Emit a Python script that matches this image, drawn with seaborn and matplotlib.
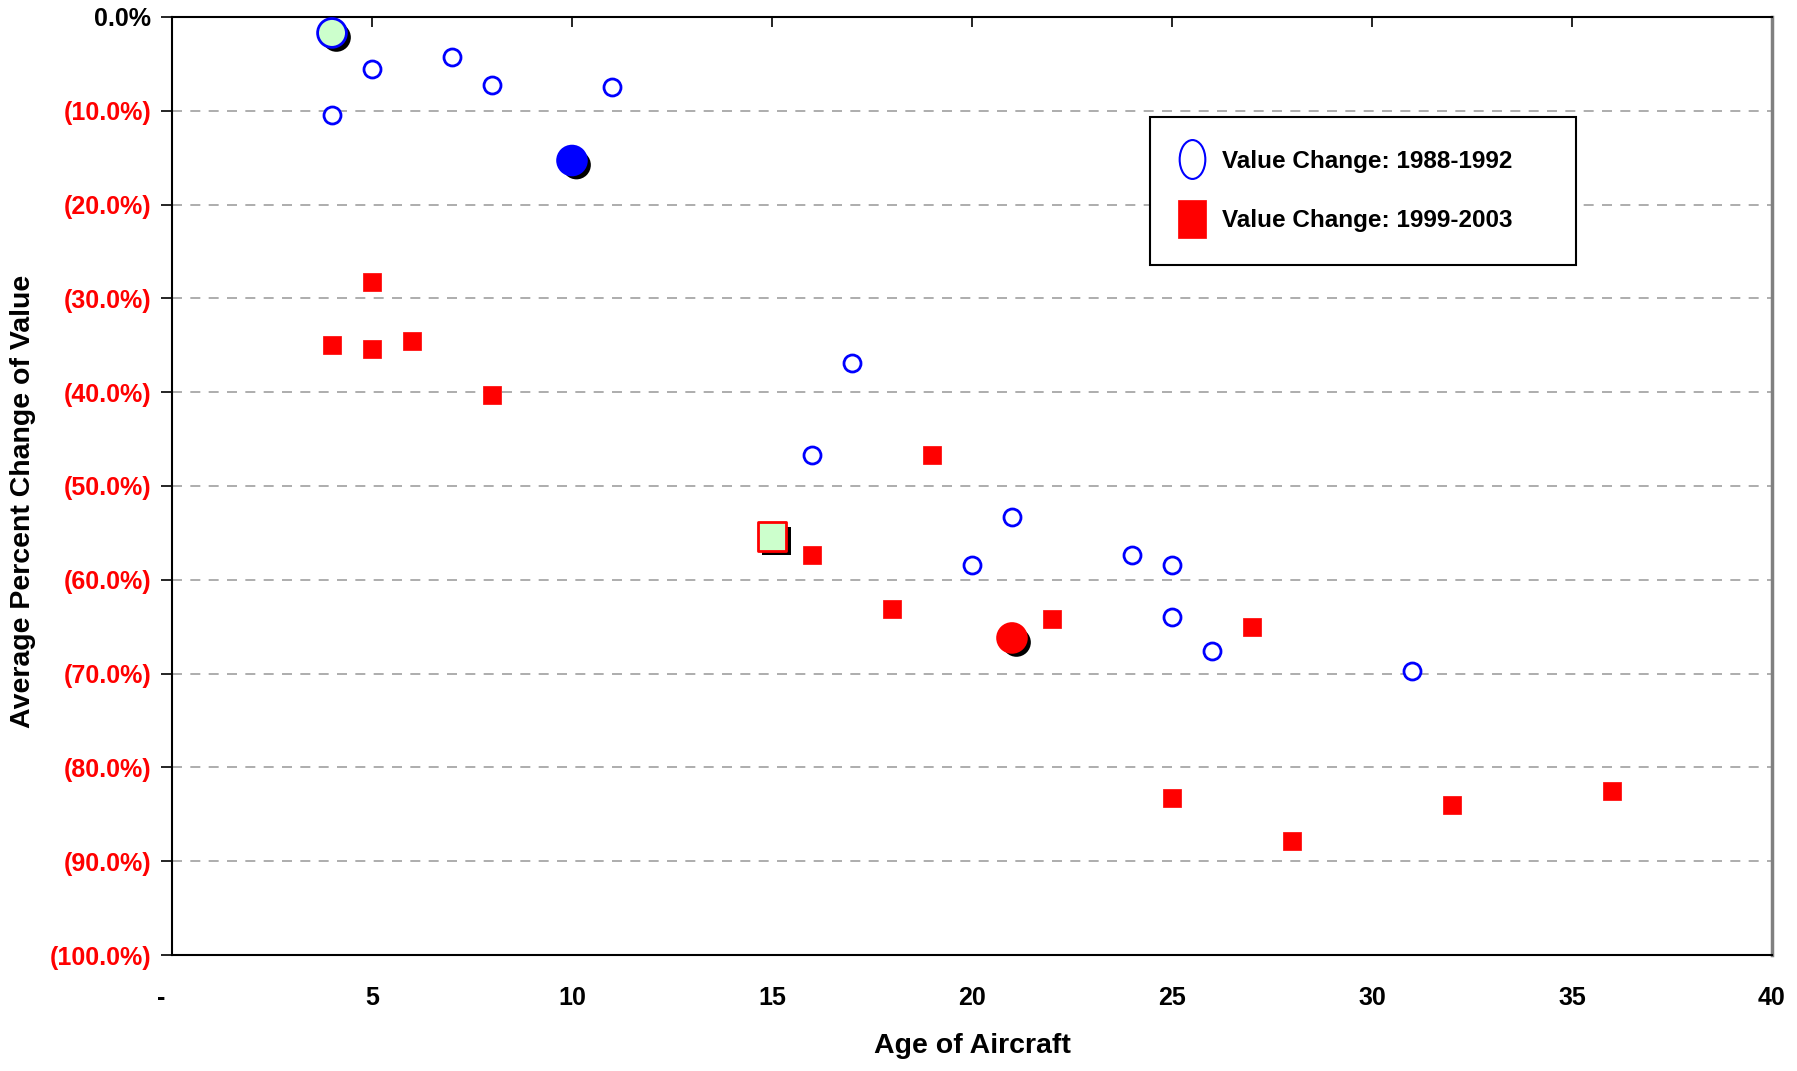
import numpy as np
import pandas as pd
import matplotlib
matplotlib.use("Agg")
import matplotlib.pyplot as plt
import matplotlib.patheffects as pe
from matplotlib.path import Path
from matplotlib.transforms import Affine2D
from matplotlib.lines import Line2D
import seaborn as sns

# ---- data ----
ages_8892 = [4, 5, 7, 8, 11, 16, 17, 20, 21, 24, 25, 25, 26, 31]
chg_8892 = [-10.4, -5.5, -4.3, -7.2, -7.5, -46.7, -36.9, -58.4, -53.3, -57.4, -58.4, -64.0, -67.6, -69.7]

ages_9903 = [4, 5, 5, 6, 8, 16, 18, 19, 22, 25, 27, 28, 32, 36]
chg_9903 = [-35.0, -28.3, -35.4, -34.5, -40.3, -57.4, -63.1, -46.7, -64.2, -83.3, -65.0, -87.8, -84.0, -82.5]

# highlighted points
hl_ages = [4, 10, 15, 21]
hl_chg = [-1.7, -15.3, -55.4, -66.2]

legend_labels = ["Value Change: 1988-1992", "Value Change: 1999-2003"]
x_ticks = [0, 5, 10, 15, 20, 25, 30, 35, 40]
y_ticks = [0, -10, -20, -30, -40, -50, -60, -70, -80, -90, -100]

df_a = pd.DataFrame({"age": ages_8892, "chg": chg_8892})
df_b = pd.DataFrame({"age": ages_9903, "chg": chg_9903})

sns.set_theme(style="white")
plt.rcParams["font.family"] = ["Liberation Sans", "DejaVu Sans"]
plt.rcParams["font.weight"] = "bold"
for k in ["text.color", "axes.labelcolor", "xtick.color", "ytick.color"]:
    plt.rcParams[k] = "black"

fig = plt.figure(figsize=(17.97, 10.71), dpi=100)
ax = fig.add_axes([172 / 1797, 1 - 955 / 1071, 1600 / 1797, 938 / 1071])

# gridlines
ax.set_axisbelow(True)
ax.yaxis.grid(True, color="#a0a0a0", linestyle=(0, (6, 5)), linewidth=1.2)
ax.xaxis.grid(False)

sns.scatterplot(data=df_a, x="age", y="chg", ax=ax, marker="o", s=150,
                color="white", edgecolor="#0000ff", linewidth=2, zorder=3)
sns.scatterplot(data=df_b, x="age", y="chg", ax=ax, marker="s", s=175,
                color="#ff0000", edgecolor="#ff0000", linewidth=0.5, zorder=3)

shadow = [pe.SimplePatchShadow(offset=(3.2, -3.2), shadow_rgbFace="black", alpha=1.0), pe.Normal()]
hl_styles = [
    dict(marker="o", color="#ccffcc", edgecolor="#0000ff"),
    dict(marker="o", color="#0000ff", edgecolor="#0000ff"),
    dict(marker="s", color="#ccffcc", edgecolor="#ff0000"),
    dict(marker="o", color="#ff0000", edgecolor="#ff0000"),
]
for xa, ya, st in zip(hl_ages, hl_chg, hl_styles):
    col = sns.scatterplot(x=[xa], y=[ya], ax=ax, s=430, linewidth=2, zorder=4, **st)
    col.collections[-1].set_path_effects(shadow)

# axes limits / ticks
ax.set_xlim(0, 40)
ax.set_ylim(-100, 0)
ax.set_xticks(x_ticks)
ax.set_xticklabels(["-   "] + [str(v) for v in x_ticks[1:]], fontsize=18, fontweight="bold")
ax.set_yticks(y_ticks)
ylabels = ["0.0%" if v == 0 else "({:.1f}%)".format(abs(v)) for v in y_ticks]
ax.set_yticklabels(ylabels, fontsize=18, fontweight="bold")
for lab, v in zip(ax.get_yticklabels(), y_ticks):
    lab.set_color("black" if v == 0 else "#ff0000")
for lab in ax.get_xticklabels():
    lab.set_color("black")

ax.tick_params(axis="x", top=True, bottom=False, labeltop=False, labelbottom=True,
               direction="in", length=7, width=1.2, color="black", pad=22)
ax.tick_params(axis="y", left=True, direction="out", length=8, width=1.2, color="black", pad=7)

for side in ["left", "bottom", "top"]:
    ax.spines[side].set_color("black")
    ax.spines[side].set_linewidth(1.5)
ax.spines["right"].set_color("#808080")
ax.spines["right"].set_linewidth(2.5)

ax.set_xlabel("Age of Aircraft", fontsize=20.5, fontweight="bold", va="center", color="black")
ax.xaxis.set_label_coords(0.5, (25 - 116) / 938)
ax.set_ylabel("Average Percent Change of Value", fontsize=20.5, fontweight="bold",
              va="center", ha="center", color="black")
ax.yaxis.set_label_coords((23 - 172) / 1600, (570 - 116) / 938)

# legend with custom handle shapes
ell = Path.unit_circle().transformed(Affine2D().scale(0.66, 1.0))
rect = Path([(-0.71, -1), (0.71, -1), (0.71, 1), (-0.71, 1), (-0.71, -1)],
            [Path.MOVETO, Path.LINETO, Path.LINETO, Path.LINETO, Path.CLOSEPOLY])
handles = [
    Line2D([], [], linestyle="none", marker=ell, markersize=28, markerfacecolor="white",
           markeredgecolor="#0000ff", markeredgewidth=1.5),
    Line2D([], [], linestyle="none", marker=rect, markersize=28, markerfacecolor="#ff0000",
           markeredgecolor="#ff0000", markeredgewidth=0.5),
]
x0 = 1150 / 1797
y1 = 1 - 117 / 1071
w = (1576 - 1150) / 1797
h = (265 - 117) / 1071
leg = ax.legend(handles, legend_labels, loc="upper left",
                bbox_to_anchor=(x0, y1 - h, w, h), bbox_transform=fig.transFigure,
                mode="expand", borderaxespad=0, prop={"size": 17.5, "weight": "bold"},
                frameon=True, fancybox=False, shadow=False, borderpad=1.35,
                handlelength=0.75, handletextpad=0.85, labelspacing=1.5)
for t in leg.get_texts():
    t.set_color("black")
frame = leg.get_frame()
frame.set_edgecolor("black")
frame.set_linewidth(1.5)
frame.set_facecolor("white")
frame.set_alpha(1)

fig.savefig("out.png", dpi=100)
